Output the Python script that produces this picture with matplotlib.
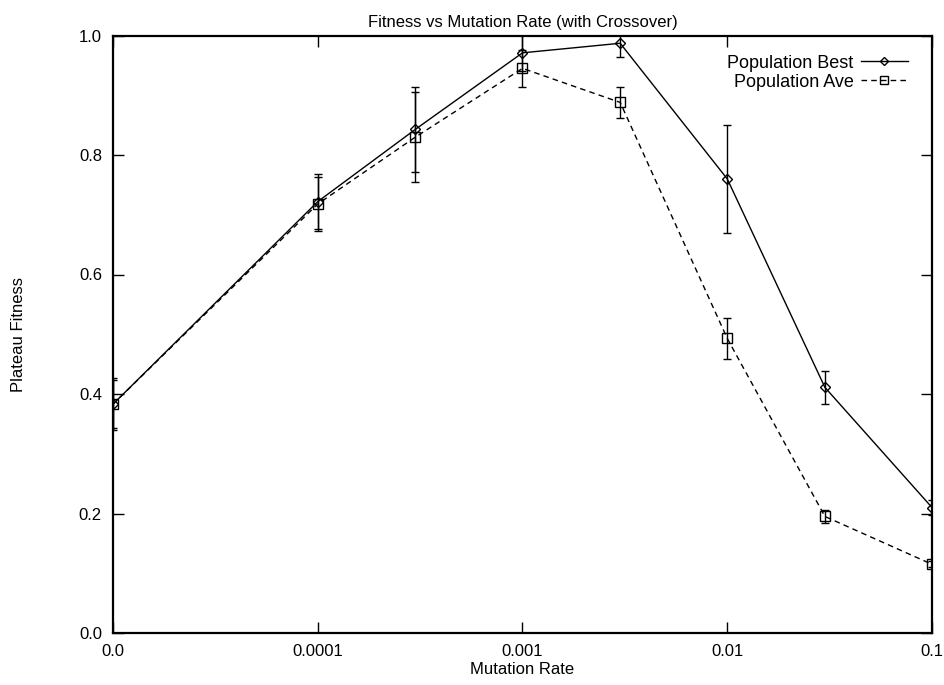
import matplotlib
matplotlib.use("Agg")
import matplotlib.pyplot as plt
from matplotlib.lines import Line2D
import numpy as np

plt.rcParams['font.family'] = ['Liberation Sans', 'DejaVu Sans']

# Data
mutation_rates = [0.0, 0.0001, 0.0003, 0.001, 0.003, 0.01, 0.03, 0.1]
best_mean = [0.383, 0.722, 0.843, 0.971, 0.987, 0.760, 0.411, 0.210]
best_err = [0.043, 0.046, 0.071, 0.030, 0.023, 0.090, 0.028, 0.013]
ave_mean = [0.383, 0.718, 0.830, 0.945, 0.888, 0.493, 0.195, 0.115]
ave_err = [0.040, 0.045, 0.076, 0.031, 0.026, 0.034, 0.011, 0.005]
x_tick_values = [0.0, 0.0001, 0.001, 0.01, 0.1]
x_tick_labels = ["0.0", "0.0001", "0.001", "0.01", "0.1"]
y_ticks = [0.0, 0.2, 0.4, 0.6, 0.8, 1.0]
series_names = ["Population Best", "Population Ave"]

# zero rate is drawn one decade left of 0.0001 on the log axis
zero_pos = 1e-5
def xpos(v):
    return [zero_pos if r == 0 else r for r in v]

fig = plt.figure(figsize=(9.45, 6.85), dpi=100)
ax = fig.add_axes([113/945, 1 - 633/685, (932 - 113)/945, (633 - 35.5)/685])

x = xpos(mutation_rates)
dash = (0, (4, 3))
ax.errorbar(x, best_mean, yerr=best_err, color='black', lw=1.0, ls='-',
            marker='D', markersize=5.5, markerfacecolor='none', markeredgewidth=1.0,
            capsize=3, elinewidth=1.0, capthick=1.0)
ax.errorbar(x, ave_mean, yerr=ave_err, color='black', lw=1.0, ls=dash,
            marker='s', markersize=6.5, markerfacecolor='none', markeredgewidth=1.0,
            capsize=3, elinewidth=1.0, capthick=1.0)

ax.set_xscale('log')
ax.set_xlim(zero_pos, 0.1)
ax.set_ylim(0, 1.0)
ax.set_xticks(xpos(x_tick_values))
ax.set_xticklabels(x_tick_labels)
ax.minorticks_off()
ax.set_yticks(y_ticks)
ax.set_yticklabels([f"{v:.1f}" for v in y_ticks])

ax.tick_params(direction='in', length=8, width=1, labelsize=12, top=True, right=True, pad=8)
for s in ax.spines.values():
    s.set_linewidth(1.6)

ax.set_title("Fitness vs Mutation Rate (with Crossover)", fontsize=12, pad=6)
ax.set_xlabel("Mutation Rate", fontsize=12, labelpad=2)
ax.set_ylabel("Plateau Fitness", fontsize=12, labelpad=38)

handles = [
    Line2D([], [], color='black', lw=1.0, ls='-', marker='D', markersize=4.5,
           markerfacecolor='none', markeredgewidth=1.0),
    Line2D([], [], color='black', lw=1.0, ls=dash, marker='s', markersize=5.5,
           markerfacecolor='none', markeredgewidth=1.0),
]
leg = ax.legend(handles, series_names, loc='upper right', frameon=False, markerfirst=False,
                fontsize=13, handlelength=2.6, handletextpad=0.4, labelspacing=0.1,
                bbox_to_anchor=(0.99, 0.995))
for t in leg.get_texts():
    t.set_ha('right')

fig.savefig("out.png", dpi=100)
